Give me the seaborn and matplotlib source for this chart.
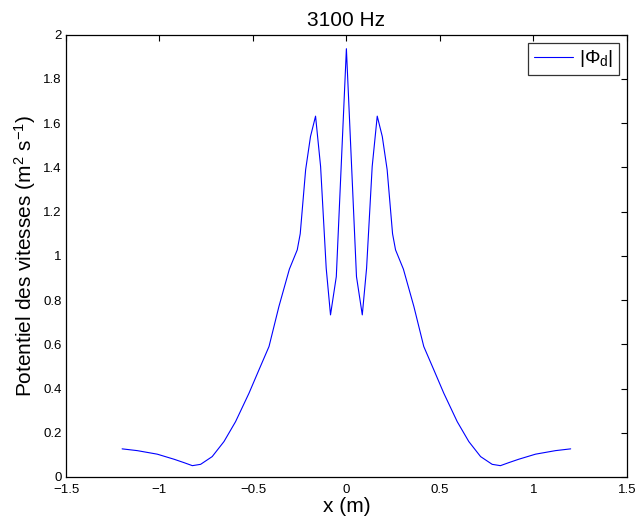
import numpy as np
import pandas as pd
import seaborn as sns
import matplotlib.pyplot as plt
from matplotlib.ticker import FuncFormatter

# valeurs (|Phi_d| a 3100 Hz)
x_m = [-1.200, -1.119, -1.012, -0.922, -0.870, -0.824, -0.780, -0.718, -0.655,
       -0.593, -0.521, -0.468, -0.414, -0.361, -0.305, -0.263, -0.247, -0.218,
       -0.192, -0.165, -0.138, -0.108, -0.085, -0.054, 0.000,
       0.054, 0.085, 0.108, 0.138, 0.165, 0.192, 0.218, 0.247, 0.263,
       0.305, 0.361, 0.414, 0.468, 0.521, 0.593, 0.655, 0.718, 0.780,
       0.824, 0.870, 0.922, 1.012, 1.119, 1.200]
phi_d = [0.127, 0.119, 0.103, 0.080, 0.065, 0.051, 0.057, 0.092, 0.160,
         0.250, 0.379, 0.484, 0.590, 0.771, 0.940, 1.027, 1.100, 1.390,
         1.540, 1.632, 1.404, 0.944, 0.733, 0.906, 1.937,
         0.906, 0.733, 0.944, 1.404, 1.632, 1.540, 1.390, 1.100, 1.027,
         0.940, 0.771, 0.590, 0.484, 0.379, 0.250, 0.160, 0.092, 0.057,
         0.051, 0.065, 0.080, 0.103, 0.119, 0.127]

x_ticks = [-1.5, -1, -0.5, 0, 0.5, 1, 1.5]
y_ticks = [0, 0.2, 0.4, 0.6, 0.8, 1, 1.2, 1.4, 1.6, 1.8, 2]

df = pd.DataFrame({"x": x_m, "phi": phi_d})

sns.set_style("white")
plt.rcParams['font.family'] = ['Liberation Sans', 'DejaVu Sans']
plt.rcParams['text.color'] = 'black'
plt.rcParams['axes.labelcolor'] = 'black'
plt.rcParams['mathtext.fontset'] = 'custom'
plt.rcParams['mathtext.rm'] = 'Liberation Sans'
plt.rcParams['mathtext.it'] = 'Liberation Sans:italic'
plt.rcParams['mathtext.default'] = 'regular'

fig = plt.figure(figsize=(6.35, 5.27), dpi=100)
ax = fig.add_axes([0.104, 0.095, 0.883, 0.839])

sns.lineplot(data=df, x="x", y="phi", sort=False, estimator=None,
             color="#0000ff", linewidth=0.8, ax=ax, label=r"$|\Phi_{d}|$")

ax.set_xlim(-1.5, 1.5)
ax.set_ylim(0, 2)
ax.set_xticks(x_ticks)
ax.set_yticks(y_ticks)
fmt = FuncFormatter(lambda v, p: ("%g" % v).replace("-", "\u2212"))
ax.xaxis.set_major_formatter(fmt)
ax.yaxis.set_major_formatter(fmt)
ax.tick_params(direction="in", length=4, width=0.8, labelsize=9.5,
               top=True, right=True, colors="black", pad=3)
ax.tick_params(axis="x", pad=5)

for s in ax.spines.values():
    s.set_color("black")
    s.set_linewidth(0.9)

ax.set_title("3100 Hz", fontsize=15, pad=6, color="black")
ax.set_xlabel("x (m)", fontsize=15, labelpad=1)
ax.set_ylabel(r"Potentiel des vitesses (m$^2$ s$^{-1}$)", fontsize=15, labelpad=4)

leg = ax.legend(loc="upper right", fontsize=14, frameon=True, fancybox=False,
                edgecolor="black", handlelength=2.0, borderaxespad=0.4,
                borderpad=0.3, handletextpad=0.3)
leg.get_frame().set_linewidth(0.9)

fig.savefig("out.png", dpi=100)
